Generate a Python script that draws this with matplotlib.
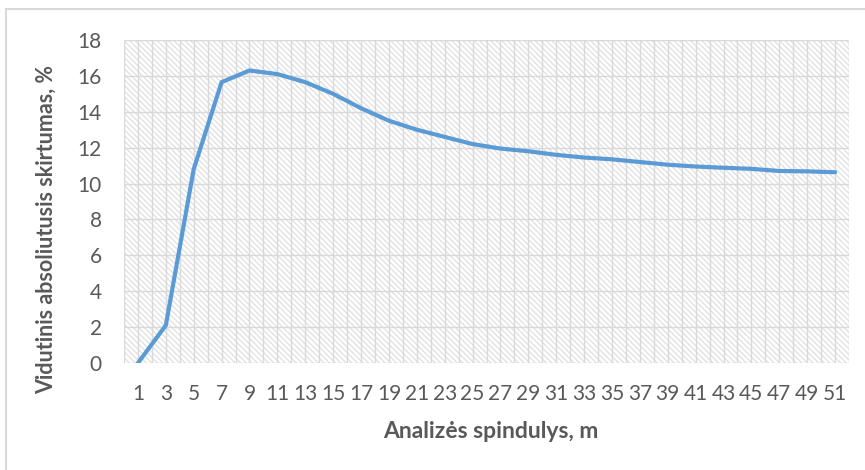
import matplotlib
matplotlib.use('Agg')
import matplotlib.pyplot as plt
from matplotlib.patches import Rectangle
from matplotlib.lines import Line2D
import numpy as np

plt.rcParams['font.family'] = ['Lato', 'DejaVu Sans']
plt.rcParams['hatch.linewidth'] = 0.8

# data
radius = list(range(1, 52, 2))
diff = [0, 2.1, 10.8, 15.65, 16.3, 16.1, 15.65, 15.0, 14.2, 13.5, 13.0, 12.6, 12.2,
        11.95, 11.8, 11.6, 11.45, 11.35, 11.2, 11.05, 10.95, 10.88, 10.82, 10.7, 10.68, 10.63]
yticks = list(range(0, 19, 2))

grid_col = '#d9d9d9'
text_col = '#595959'
W, H = 865, 470

fig = plt.figure(figsize=(8.65, 4.7), dpi=100)
# chart border (only top and left edges fall inside the image)
fig.add_artist(Line2D([6 / W, 6 / W], [0, 1 - 9 / H], color='#d9d9d9', lw=1.5))
fig.add_artist(Line2D([6 / W, 1], [1 - 9 / H, 1 - 9 / H], color='#d9d9d9', lw=1.5))

ax = fig.add_axes([124 / W, 1 - 363 / H, 725 / W, 323 / H])

x = np.arange(len(radius))
ax.set_xlim(-0.5, len(radius) - 0.5)
ax.set_ylim(0, 18)

# hatched plot area
ax.add_patch(Rectangle((0, 0), 1, 1, transform=ax.transAxes, facecolor='white',
                       edgecolor='#dcdcdc', hatch='\\\\\\\\\\\\', linewidth=0, zorder=0))

for v in np.arange(-0.5, len(radius), 0.5):
    ax.axvline(v, color=grid_col, lw=1, zorder=1)
for t in yticks:
    ax.axhline(t, color=grid_col, lw=1, zorder=1)

ax.plot(x, diff, color='#5b9bd5', lw=3, solid_capstyle='round', zorder=3)

ax.set_xticks(x)
ax.set_xticklabels([str(r) for r in radius])
ax.set_yticks(yticks)
ax.tick_params(length=0, labelsize=15, colors=text_col)
ax.tick_params(axis='x', pad=15)
ax.tick_params(axis='y', pad=16)
for s in ax.spines.values():
    s.set_visible(False)

fig.text(491 / W, 1 - 432 / H, 'Analizės spindulys, m', fontsize=16.5, fontweight='bold',
         color=text_col, ha='center', va='center')
fig.text(46 / W, 1 - 230 / H, 'Vidutinis absoliutusis skirtumas, %', fontsize=15.5,
         fontweight='bold', color=text_col, ha='center', va='center', rotation=90)

fig.savefig('out.png', dpi=100)
